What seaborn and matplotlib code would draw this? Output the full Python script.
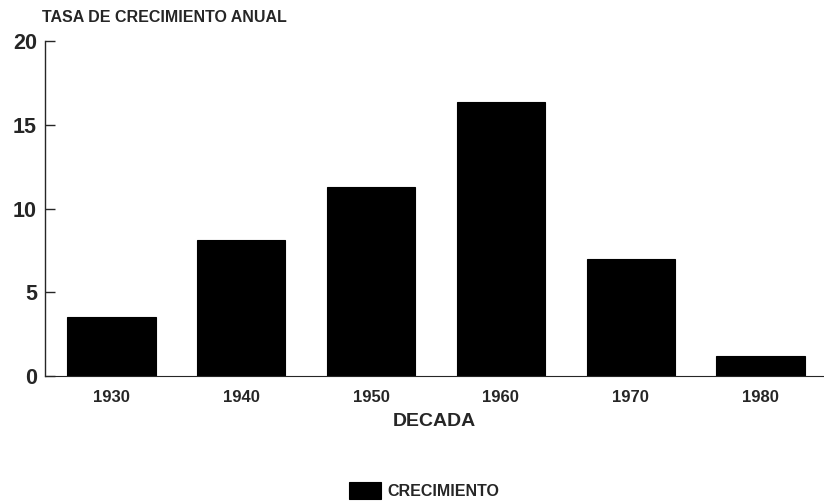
import matplotlib
matplotlib.use("Agg")
import matplotlib.pyplot as plt
import seaborn as sns
import pandas as pd

decades = ["1930", "1940", "1950", "1960", "1970", "1980"]
growth = [3.5, 8.1, 11.3, 16.4, 7.0, 1.2]
y_ticks = [0, 5, 10, 15, 20]

sns.set_style("ticks")
plt.rcParams["font.family"] = ["Liberation Sans", "DejaVu Sans"]

df = pd.DataFrame({"DECADA": decades, "CRECIMIENTO": growth})

fig = plt.figure(figsize=(8.24, 5.03), dpi=100)
ax = fig.add_axes([0.055, 0.2525, 0.945, 0.6655])

sns.barplot(data=df, x="DECADA", y="CRECIMIENTO", color="black",
            saturation=1, width=0.68, ax=ax, label="CRECIMIENTO",
            edgecolor="black", linewidth=0.8)

ax.set_ylim(0, 20)
ax.set_xlim(-0.51, 5.49)
ax.set_yticks(y_ticks)
ax.set_yticklabels([str(t) for t in y_ticks], fontsize=15.5, fontweight="bold")
ax.set_xticks(range(len(decades)))
ax.set_xticklabels(decades, fontsize=12, fontweight="bold")
ax.tick_params(axis="y", direction="in", length=7, width=1, pad=6)
ax.tick_params(axis="x", length=0, pad=10)
ax.set_ylabel("")
ax.set_xlabel("DECADA", fontsize=14, fontweight="bold", labelpad=6)
for s in ["top", "right"]:
    ax.spines[s].set_visible(False)
ax.spines["left"].set_linewidth(1.0)
ax.spines["bottom"].set_linewidth(0.8)

fig.text(0.051, 0.965, "TASA DE CRECIMIENTO ANUAL", fontsize=11.5,
         fontweight="bold", ha="left", va="center")

handles, labels = ax.get_legend_handles_labels()
if ax.get_legend() is not None:
    ax.get_legend().remove()
fig.legend(handles[:1], ["CRECIMIENTO"], loc="center", bbox_to_anchor=(0.515, 0.025),
           frameon=False, prop={"size": 11.5, "weight": "bold"}, handlelength=2.0,
           handleheight=1.2, handletextpad=0.4)

fig.savefig("out.png", dpi=100)
